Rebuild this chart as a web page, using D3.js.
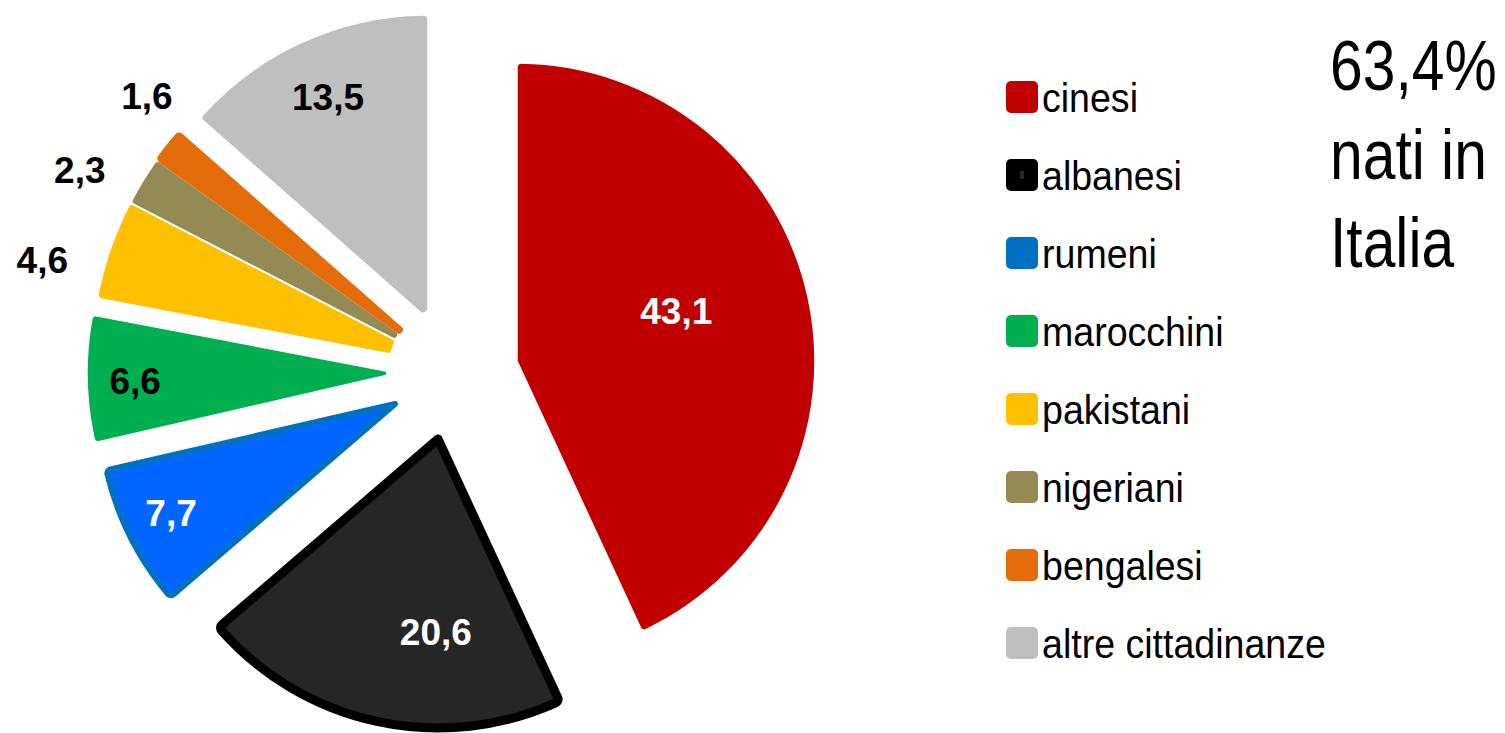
<!DOCTYPE html>
<html><head>
<meta charset="utf-8">
<title>Cittadinanze</title>
<script src="https://d3js.org/d3.v7.min.js"></script>
<style>
  body { margin: 0; background: white; }
  text { font-family: "Liberation Sans", Arial, Helvetica, sans-serif; }
</style>
</head>
<body>
<div id="chart"></div>
<script>
// data
var categories = ["cinesi", "albanesi", "rumeni", "marocchini", "pakistani", "nigeriani", "bengalesi", "altre cittadinanze"];
var values = [43.1, 20.6, 7.7, 6.6, 4.6, 2.3, 1.6, 13.5];
var valueLabels = ["43,1", "20,6", "7,7", "6,6", "4,6", "2,3", "1,6", "13,5"];
var headline = ["63,4%", "nati in", "Italia"];

// styling per slice
var fills   = ["#C00000", "#262626", "#0066FF", "#00B050", "#FFC000", "#948A54", "#E46C0A", "#BFBFBF"];
var strokes = ["white", "#000000", "#0070C0", "white", "white", "white", "#E46C0A", "white"];
var strokeW = [1.5, 9, 6, 1.5, 1.5, 2, 2, 1.5];
var radii   = [298, 289, 296, 310, 351, 351, 351, 304];
var inner   = [0, 0, 0, 10, 52, 52, 52, 7];
// each slice pulled out of the pie by hand (dx, dy); the three small ones move together
var explode = [[63, -9], [-16, 69], [-59, 34], [-57, 3], [-12, -6], [-12, -6], [-12, -6], [-26, -51]];
// label: distance from the slice tip, angle shift (deg) from the slice middle
var labelDist  = [167, 193, 249, 262, 413, 411, 399, 244];
var labelShift = [-5.1, -11.6, 0.9, -0.6, -4.5, -3.3, 3.8, 0.1];
var labelColor = ["white", "white", "white", "black", "black", "black", "black", "black"];

var width = 1505, height = 733;
var cx = 454, cy = 370;

var svg = d3.select("#chart").append("svg")
  .attr("width", width)
  .attr("height", height);

svg.append("rect").attr("width", width).attr("height", height).attr("fill", "white");

var pie = d3.pie().sort(null).value(function(d) { return d; });
var arcs = pie(values);

var pieG = svg.append("g").attr("transform", "translate(" + cx + "," + cy + ")");

var slices = pieG.selectAll("g.slice")
  .data(arcs)
  .enter().append("g")
  .attr("class", "slice")
  .attr("transform", function(d, i) { return "translate(" + explode[i][0] + "," + explode[i][1] + ")"; });

slices.append("path")
  .attr("d", function(d, i) {
    return d3.arc().innerRadius(inner[i]).outerRadius(radii[i]).cornerRadius(4)(d);
  })
  .attr("fill", function(d, i) { return fills[i]; })
  .attr("stroke", function(d, i) { return strokes[i]; })
  .attr("stroke-width", function(d, i) { return strokeW[i]; })
  .attr("stroke-linejoin", "round");

slices.append("text")
  .attr("transform", function(d, i) {
    var a = (d.startAngle + d.endAngle) / 2 + labelShift[i] * Math.PI / 180;
    return "translate(" + (labelDist[i] * Math.sin(a)) + "," + (-labelDist[i] * Math.cos(a)) + ")";
  })
  .attr("text-anchor", "middle")
  .attr("dy", "0.36em")
  .style("font-size", "37px")
  .style("font-weight", "bold")
  .attr("fill", function(d, i) { return labelColor[i]; })
  .text(function(d, i) { return valueLabels[i]; });

// legend
var legendY = d3.scalePoint().domain(categories).range([97, 643]);
var legend = svg.append("g").selectAll("g")
  .data(categories)
  .enter().append("g")
  .attr("transform", function(d) { return "translate(1006," + legendY(d) + ")"; });

legend.append("rect")
  .attr("x", 0).attr("y", -16)
  .attr("width", 32).attr("height", 32)
  .attr("rx", 5)
  .attr("fill", function(d, i) { return i == 1 ? "#000000" : (i == 2 ? "#0070C0" : fills[i]); });

// the small inner marks of the bordered series
legend.filter(function(d, i) { return i == 1 || i == 2; })
  .append("rect")
  .attr("x", 14).attr("y", function(d, i) { return i == 0 ? -4 : -2; })
  .attr("width", 4).attr("height", function(d, i) { return i == 0 ? 8 : 4; })
  .attr("fill", function(d, i) { return i == 0 ? "#262626" : "#0066FF"; });

legend.append("text")
  .attr("transform", "translate(36,15) scale(0.916,1)")
  .style("font-size", "41px")
  .attr("fill", "black")
  .text(function(d) { return d; });

// headline on the right
var headY = d3.scalePoint().domain(headline).range([90, 267]);
svg.append("g").selectAll("text")
  .data(headline)
  .enter().append("text")
  .attr("transform", function(d) { return "translate(1330," + headY(d) + ") scale(0.84,1)"; })
  .style("font-size", "70px")
  .attr("fill", "black")
  .text(function(d) { return d; });
</script>
</body></html>
